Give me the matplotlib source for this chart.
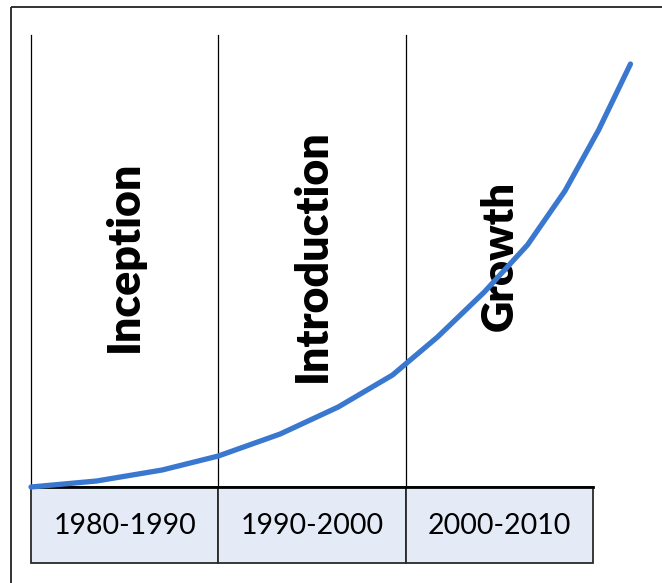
import matplotlib
matplotlib.use("Agg")
import matplotlib.pyplot as plt
from matplotlib.patches import Rectangle

# Growth curve (year, level)
years = [1980.0, 1983.5, 1987.0, 1990.0, 1993.3, 1996.4, 1999.3, 2001.7,
         2004.2, 2006.5, 2008.5, 2010.3, 2012.0]
levels = [0, 6, 17, 31, 53, 80, 112, 150, 195, 242, 296, 357, 423]

# Decade bands and phase names
band_starts = [1980, 1990, 2000]
band_ends = [1990, 2000, 2010]
band_labels = ["1980-1990", "1990-2000", "2000-2010"]
phases = ["Inception", "Introduction", "Growth"]

W, H, DPI = 662, 583, 100
fig = plt.figure(figsize=(W / DPI, H / DPI), dpi=DPI)
ax = fig.add_axes([0, 0, 1, 1])
ax.set_axis_off()

px_per_year = (593 - 31) / 30.0
ax.set_xlim(1980 - 31 / px_per_year, 1980 + (W - 31) / px_per_year)
ax.set_ylim(-(H - 487), 487)

# frame on the left and top edges
ax.plot([1980 - 20 / px_per_year] * 2, [-(H - 487), 480], color="#222222", lw=1.3,
        solid_capstyle="butt")
ax.plot([1980 - 20 / px_per_year, 2020], [480, 480], color="#222222", lw=1.3,
        solid_capstyle="butt")

# vertical dividers between phases
for x0 in band_starts:
    ax.plot([x0, x0], [0, 452], color="black", lw=0.9)

# decade boxes
box_h = 76
for x0, x1, lab in zip(band_starts, band_ends, band_labels):
    ax.add_patch(Rectangle((x0, -box_h), x1 - x0, box_h, facecolor="#E4EBF6",
                           edgecolor="#2a2a2a", lw=1.3, zorder=2))
ax.plot([band_starts[0], band_ends[-1]], [0, 0], color="black", lw=2.0, zorder=3)

fig.canvas.draw()
renderer = fig.canvas.get_renderer()


def fitted_text(x, y, s, target, rotation=0, **kw):
    t = ax.text(x, y, s, ha="center", va="center", rotation=rotation,
                fontsize=20, **kw)
    bb = t.get_window_extent(renderer)
    cur = bb.height if rotation else bb.width
    t.set_fontsize(20 * target / cur)
    return t


for x0, x1, lab in zip(band_starts, band_ends, band_labels):
    fitted_text((x0 + x1) / 2, -box_h / 2 - 1, lab, 143, family="Lato",
                color="black", zorder=4)

phase_lengths = [192, 253, 150]
for x0, x1, name, ln in zip(band_starts, band_ends, phases, phase_lengths):
    fitted_text((x0 + x1) / 2, 231, name, ln, rotation=90, family="Lato",
                fontweight="heavy", color="black", zorder=4)

ax.plot(years, levels, color="#3A78D0", lw=3.8, solid_capstyle="round",
        solid_joinstyle="round", zorder=5)

fig.savefig("out.png", dpi=DPI)
